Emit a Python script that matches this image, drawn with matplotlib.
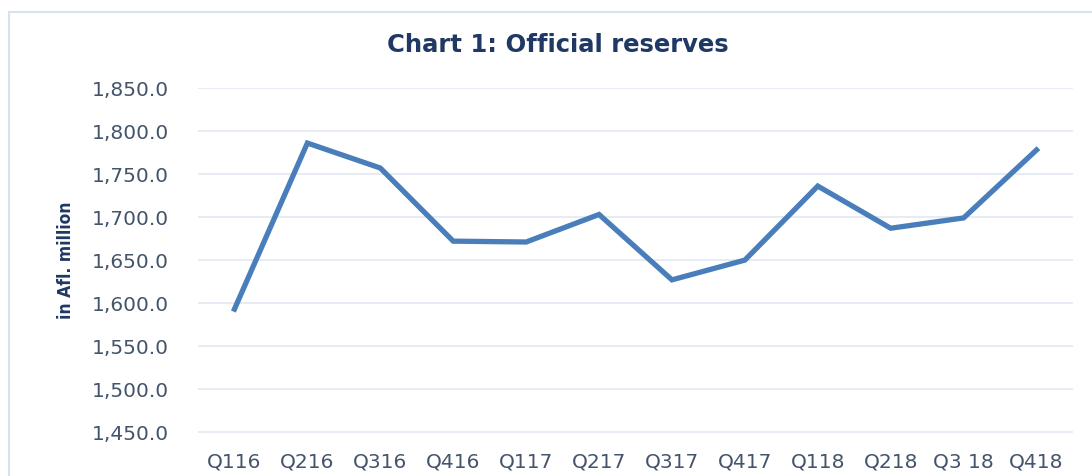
import matplotlib.pyplot as plt
from matplotlib.patches import Rectangle

# Official reserves, in Afl. million
quarters = ["Q116", "Q216", "Q316", "Q416", "Q117", "Q217",
            "Q317", "Q417", "Q118", "Q218", "Q3 18", "Q418"]
reserves = [1593, 1786, 1757, 1672, 1671, 1703,
            1627, 1650, 1736, 1687, 1699, 1778]
yticks = [1450, 1500, 1550, 1600, 1650, 1700, 1750, 1800, 1850]

label_color = "#44546A"
line_color = "#4A7EBB"

fig = plt.figure(figsize=(10.92, 4.76), dpi=100)
fig.patch.set_facecolor("white")

# outer chart frame
fig.patches.append(Rectangle((9 / 1092, -0.1), 1.2, (476 - 12) / 476 + 0.1,
                             transform=fig.transFigure, fill=False,
                             edgecolor="#D6E2F0", linewidth=1.5))

ax = fig.add_axes([198 / 1092, 43 / 476, 875 / 1092, 345 / 476])
x = list(range(len(quarters)))
ax.plot(x, reserves, color=line_color, linewidth=3.8, solid_joinstyle="miter")

ax.set_xlim(-0.5, len(quarters) - 0.5)
ax.set_ylim(1449, 1850)
ax.set_yticks(yticks)
ax.set_yticklabels([f"{v:,.1f}" for v in yticks])
ax.set_xticks(x)
ax.set_xticklabels(quarters)
ax.tick_params(axis="both", length=0, colors=label_color, labelsize=14.5)
ax.tick_params(axis="y", pad=21)
ax.tick_params(axis="x", pad=14)
for s in ax.spines.values():
    s.set_visible(False)
ax.grid(axis="y", color="#E3E8F2", linewidth=1.2)
ax.set_axisbelow(True)

ax.set_ylabel("in Afl. million", color="#1F3864", fontsize=12.5,
              fontweight="bold", fontstretch="condensed", labelpad=12)
fig.text(558 / 1092, 1 - 45 / 476, "Chart 1: Official reserves",
         ha="center", va="center", fontsize=17.5, fontweight="bold",
         color="#1F3864")

fig.savefig("out.png", dpi=100)
